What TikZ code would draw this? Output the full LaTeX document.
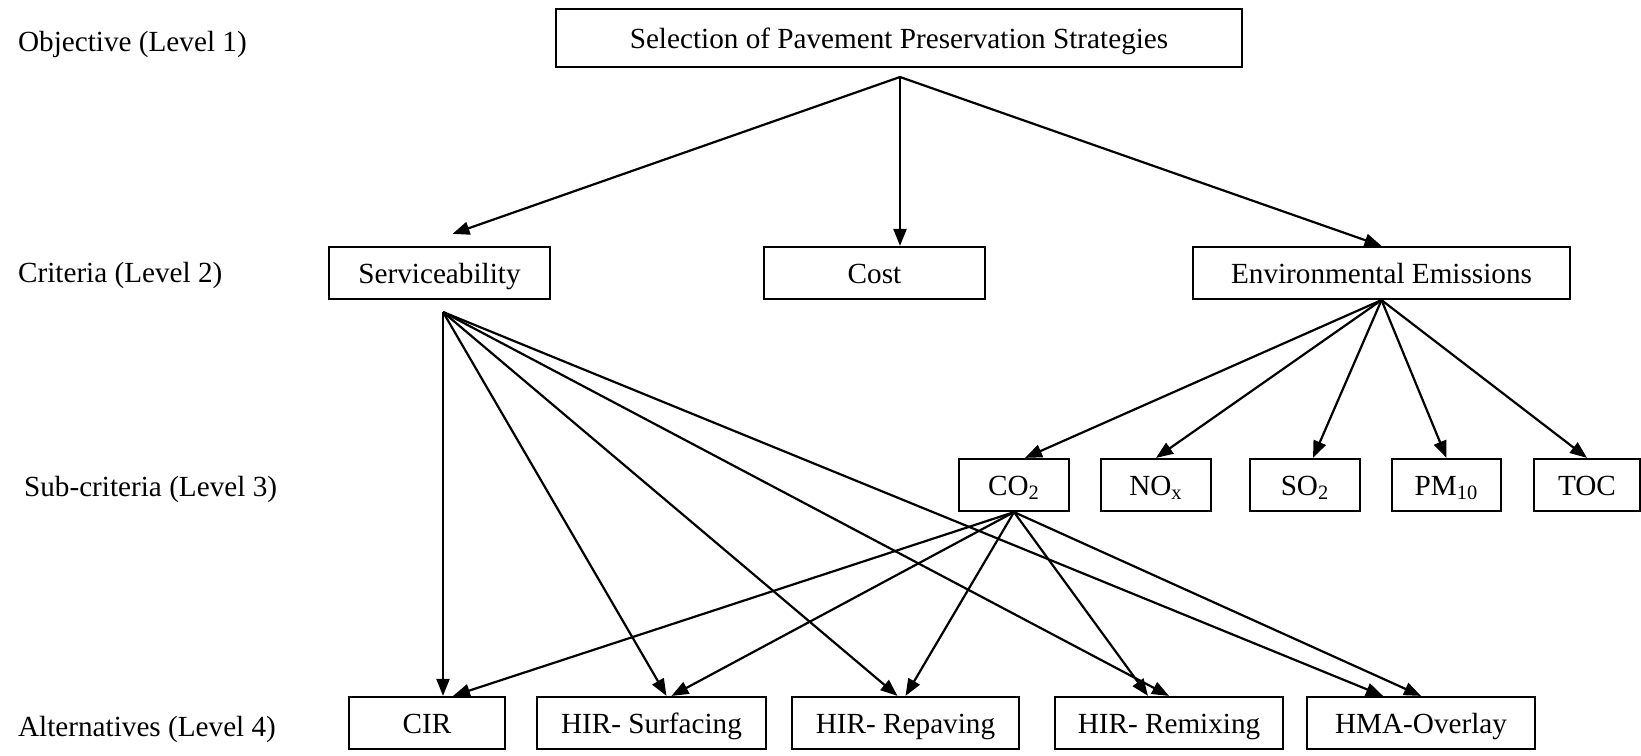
\documentclass[tikz,border=0pt]{standalone}
\usepackage{fontspec}
\setmainfont{Liberation Serif}
\usetikzlibrary{arrows.meta,calc}

\begin{document}
\begin{tikzpicture}[->, >={Triangle[length=8.5pt,width=6.5pt]}, line width=1.1pt, x=0.5pt, y=-0.5pt, font=\fontsize{14.6}{17}\selectfont, main node/.style={rectangle, draw, -, inner sep=0pt, minimum height=26pt, text height=10pt, text depth=0pt}, level node/.style={anchor=west, inner sep=0pt}]
	\useasboundingbox (0,0) rectangle (1641,755);
	% levels
	\node[level node] (L1) at (17,44) {Objective (Level 1)};
	\node[level node] (L2) at (17,275) {Criteria (Level 2)};
	\node[level node] (L3) at (23,489) {Sub-criteria (Level 3)};
	\node[level node] (L4) at (17,729) {Alternatives (Level 4)};
	% boxes
	\node[main node, minimum width=343pt, minimum height=29pt] (Obj) at (899,38) {Selection of Pavement Preservation Strategies};
	\node[main node, minimum width=110.5pt] (Serv) at (439.5,273) {Serviceability};
	\node[main node, minimum width=110.5pt] (Cost) at (874.5,273) {Cost};
	\node[main node, minimum width=188.5pt] (Env) at (1381.5,273) {Environmental Emissions};
	\node[main node, minimum width=55pt] (CO2) at (1014,485) {CO\textsubscript{2}};
	\node[main node, minimum width=55pt] (NOx) at (1156,485) {NO\textsubscript{x}};
	\node[main node, minimum width=55pt] (SO2) at (1305,485) {SO\textsubscript{2}};
	\node[main node, minimum width=54.5pt] (PM) at (1446.5,485) {PM\textsubscript{10}};
	\node[main node, minimum width=53pt] (TOC) at (1587,485) {TOC};
	\node[main node, minimum width=78pt] (CIR) at (427,723) {CIR};
	\node[main node, minimum width=114.5pt] (HS) at (651.5,723) {HIR- Surfacing};
	\node[main node, minimum width=113.5pt] (HRp) at (905.5,723) {HIR- Repaving};
	\node[main node, minimum width=114pt] (HRm) at (1169,723) {HIR- Remixing};
	\node[main node, minimum width=114pt] (HMA) at (1421,723) {HMA-Overlay};
	\coordinate (ObjOut) at (900,77);
	\coordinate (ServOut) at (443,312);
	% level 1 -> level 2
	\path
		(ObjOut) edge ($(Serv.north)+(13,-12)$)
		(ObjOut) edge (ObjOut |- Cost.north)
		(ObjOut) edge (Env.north);
	% level 2 -> level 3
	\path
		(Env.south) edge ($(CO2.north)+(11,0)$)
		(Env.south) edge (NOx.north)
		(Env.south) edge ($(SO2.north)+(8,0)$)
		(Env.south) edge (PM.north)
		(Env.south) edge (TOC.north);
	% to level 4
	\path
		(ServOut) edge (ServOut |- CIR.north)
		(ServOut) edge ($(HS.north)+(15,0)$)
		(ServOut) edge ($(HRp.north)+(-8,0)$)
		(ServOut) edge (HRm.north)
		(ServOut) edge ($(HMA.north)+(-38,0)$);
	\path
		(CO2.south) edge ($(CIR.north)+(26,0)$)
		(CO2.south) edge ($(HS.north)+(20,0)$)
		(CO2.south) edge (HRp.north)
		(CO2.south) edge ($(HRm.north)+(-21,0)$)
		(CO2.south) edge (HMA.north);
\end{tikzpicture}
\end{document}
